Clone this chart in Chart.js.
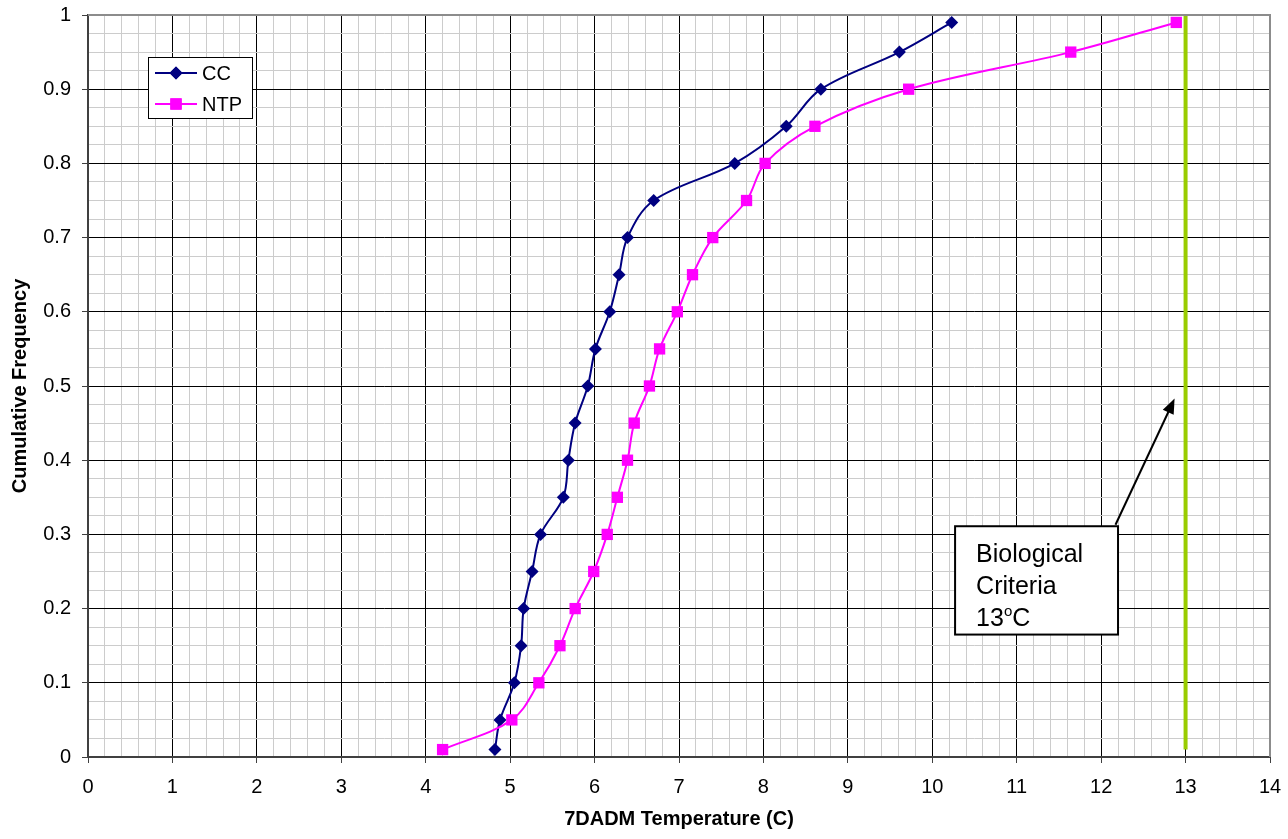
<!DOCTYPE html>
<html>
<head>
<meta charset="utf-8">
<script src="https://cdn.jsdelivr.net/npm/chart.js@4.4.1/dist/chart.umd.min.js"></script>
<style>
  html, body { margin: 0; padding: 0; background: #fff; }
  #wrap { width: 1288px; height: 839px; }
</style>
</head>
<body>
<div id="wrap"><canvas id="cdf"></canvas></div>
<script>
// cumulative frequency levels shared by both series
const freqLevels = [0.01, 0.05, 0.10, 0.15, 0.20, 0.25, 0.30, 0.35, 0.40, 0.45, 0.50,
                    0.55, 0.60, 0.65, 0.70, 0.75, 0.80, 0.85, 0.90, 0.95, 0.99];
// 7DADM temperature (C) at each level
const ccTemps  = [4.82, 4.88, 5.05, 5.13, 5.16, 5.26, 5.36, 5.63, 5.69, 5.77, 5.92,
                  6.01, 6.18, 6.29, 6.39, 6.70, 7.66, 8.27, 8.68, 9.61, 10.23];
const ntpTemps = [4.20, 5.02, 5.34, 5.59, 5.77, 5.99, 6.15, 6.27, 6.39, 6.47, 6.65,
                  6.77, 6.98, 7.16, 7.40, 7.80, 8.02, 8.61, 9.72, 11.64, 12.89];
const seriesNames = ['CC', 'NTP'];
// biological criteria line
const criteriaTemp = 13;
const criteriaFreqs = [0.01, 1];
const criteriaLines = ['Biological', 'Criteria', '13'];

const xTickLabels = [0, 1, 2, 3, 4, 5, 6, 7, 8, 9, 10, 11, 12, 13, 14];
const yTickLabels = [0, 0.1, 0.2, 0.3, 0.4, 0.5, 0.6, 0.7, 0.8, 0.9, 1];

const FONT = '"Liberation Sans", Arial, sans-serif';
const CC_COLOR = '#000080';
const NTP_COLOR = '#FF00FF';

function toPoints(xs, ys) {
    return xs.map((x, i) => ({ x: x, y: ys[i] }));
}

function isMajorX(v) { return Math.abs(v - Math.round(v)) < 1e-6; }
function isMajorY(v) { return Math.abs(v * 10 - Math.round(v * 10)) < 1e-6; }

// frame, legend and the callout box
const extrasPlugin = {
    id: 'extras',
    afterDraw(chart) {
        const ctx = chart.ctx;
        const xs = chart.scales.x, ys = chart.scales.y;
        const area = chart.chartArea;
        ctx.save();

        // gray frame on top and right
        ctx.strokeStyle = '#8c8c8c';
        ctx.lineWidth = 2;
        ctx.beginPath();
        ctx.moveTo(area.left, area.top);
        ctx.lineTo(area.right, area.top);
        ctx.lineTo(area.right, area.bottom);
        ctx.stroke();

        // legend
        const lx = 148, ly = 57, lw = 104, lh = 61;
        ctx.fillStyle = '#fff';
        ctx.fillRect(lx, ly, lw, lh);
        ctx.strokeStyle = '#000';
        ctx.lineWidth = 1;
        ctx.strokeRect(lx + 0.5, ly + 0.5, lw, lh);
        const rows = [
            { name: seriesNames[0], color: CC_COLOR, style: 'rectRot', r: 6.5 },
            { name: seriesNames[1], color: NTP_COLOR, style: 'rect', r: 8 }
        ];
        rows.forEach((row, i) => {
            const cy = ly + 16 + i * 31;
            ctx.strokeStyle = row.color;
            ctx.lineWidth = 2;
            ctx.beginPath();
            ctx.moveTo(lx + 7, cy);
            ctx.lineTo(lx + 49, cy);
            ctx.stroke();
            ctx.fillStyle = row.color;
            Chart.helpers.drawPoint(ctx, { pointStyle: row.style, radius: row.r, rotation: 0, borderWidth: 0 }, lx + 28, cy);
            ctx.fill();
            ctx.fillStyle = '#000';
            ctx.font = '20px ' + FONT;
            ctx.textBaseline = 'middle';
            ctx.textAlign = 'left';
            ctx.fillText(row.name, lx + 54, cy + 1);
        });

        // arrow to the criteria line
        const ax0 = xs.getPixelForValue(12.17), ay0 = ys.getPixelForValue(0.313);
        const ax1 = xs.getPixelForValue(12.87), ay1 = ys.getPixelForValue(0.483);
        const ang = Math.atan2(ay1 - ay0, ax1 - ax0);
        ctx.strokeStyle = '#000';
        ctx.fillStyle = '#000';
        ctx.lineWidth = 2;
        ctx.beginPath();
        ctx.moveTo(ax0, ay0);
        ctx.lineTo(ax1 - 12 * Math.cos(ang), ay1 - 12 * Math.sin(ang));
        ctx.stroke();
        ctx.beginPath();
        ctx.moveTo(ax1, ay1);
        ctx.lineTo(ax1 - 15 * Math.cos(ang) + 6 * Math.sin(ang), ay1 - 15 * Math.sin(ang) - 6 * Math.cos(ang));
        ctx.lineTo(ax1 - 15 * Math.cos(ang) - 6 * Math.sin(ang), ay1 - 15 * Math.sin(ang) + 6 * Math.cos(ang));
        ctx.closePath();
        ctx.fill();

        // callout box
        const bx0 = xs.getPixelForValue(10.27), by0 = ys.getPixelForValue(0.311);
        const bx1 = xs.getPixelForValue(12.20), by1 = ys.getPixelForValue(0.165);
        ctx.fillStyle = '#fff';
        ctx.fillRect(bx0, by0, bx1 - bx0, by1 - by0);
        ctx.strokeStyle = '#000';
        ctx.lineWidth = 2;
        ctx.strokeRect(bx0, by0, bx1 - bx0, by1 - by0);
        ctx.fillStyle = '#000';
        ctx.font = '25px ' + FONT;
        ctx.textAlign = 'left';
        ctx.textBaseline = 'alphabetic';
        const tx = bx0 + 21;
        ctx.fillText(criteriaLines[0], tx, by0 + 36);
        ctx.fillText(criteriaLines[1], tx, by0 + 68);
        ctx.fillText(criteriaLines[2], tx, by0 + 100);
        const w13 = ctx.measureText(criteriaLines[2]).width;
        ctx.font = '15px ' + FONT;
        ctx.fillText('o', tx + w13, by0 + 90);
        const wo = ctx.measureText('o').width;
        ctx.font = '25px ' + FONT;
        ctx.fillText('C', tx + w13 + wo, by0 + 100);

        ctx.restore();
    }
};

new Chart(document.getElementById('cdf'), {
    type: 'scatter',
    data: {
        datasets: [
            {
                label: 'Criteria',
                data: criteriaFreqs.map(f => ({ x: criteriaTemp, y: f })),
                showLine: true,
                borderColor: '#99CC00',
                borderWidth: 4,
                pointRadius: 0,
                order: 3
            },
            {
                label: seriesNames[0],
                data: toPoints(ccTemps, freqLevels),
                showLine: true,
                borderColor: CC_COLOR,
                backgroundColor: CC_COLOR,
                borderWidth: 2,
                tension: 0.35,
                pointStyle: 'rectRot',
                pointRadius: 6.5,
                pointBorderWidth: 0,
                order: 2
            },
            {
                label: seriesNames[1],
                data: toPoints(ntpTemps, freqLevels),
                showLine: true,
                borderColor: NTP_COLOR,
                backgroundColor: NTP_COLOR,
                borderWidth: 2,
                tension: 0.35,
                pointStyle: 'rect',
                pointRadius: 8,
                pointBorderWidth: 0,
                order: 1
            }
        ]
    },
    options: {
        responsive: true,
        maintainAspectRatio: false,
        animation: false,
        layout: { padding: { top: 15, right: 18, left: 0, bottom: 0 } },
        plugins: {
            legend: { display: false },
            tooltip: { enabled: false }
        },
        scales: {
            x: {
                type: 'linear',
                min: xTickLabels[0],
                max: xTickLabels[xTickLabels.length - 1],
                afterFit(scale) {
                    scale.height = 82;
                    scale.paddingLeft = 0;
                    scale.paddingRight = 0;
                },
                ticks: {
                    stepSize: 0.2,
                    autoSkip: false,
                    maxRotation: 0,
                    padding: 12,
                    color: '#000',
                    font: { family: FONT, size: 20 },
                    callback: v => (isMajorX(v) && xTickLabels.includes(Math.round(v))) ? String(Math.round(v)) : ''
                },
                grid: {
                    color: c => isMajorX(c.tick.value) ? '#000' : '#cccccc',
                    lineWidth: 1,
                    tickLength: 6,
                    tickColor: c => isMajorX(c.tick.value) ? '#404040' : 'rgba(0,0,0,0)'
                },
                border: { color: '#404040', width: 2 },
                title: {
                    display: true,
                    text: '7DADM Temperature (C)',
                    color: '#000',
                    font: { family: FONT, size: 20, weight: 'bold' },
                    padding: { top: 0, bottom: 8 }
                }
            },
            y: {
                type: 'linear',
                min: yTickLabels[0],
                max: yTickLabels[yTickLabels.length - 1],
                afterFit(scale) {
                    scale.width = 88;
                    scale.paddingTop = 0;
                    scale.paddingBottom = 0;
                },
                ticks: {
                    stepSize: 0.025,
                    autoSkip: false,
                    padding: 11,
                    color: '#000',
                    font: { family: FONT, size: 20 },
                    callback: v => isMajorY(v) ? String(Math.round(v * 10) / 10) : ''
                },
                grid: {
                    color: c => isMajorY(c.tick.value) ? '#000' : '#cccccc',
                    lineWidth: 1,
                    tickLength: 6,
                    tickColor: c => isMajorY(c.tick.value) ? '#404040' : 'rgba(0,0,0,0)'
                },
                border: { color: '#404040', width: 2 },
                title: {
                    display: true,
                    text: 'Cumulative Frequency',
                    color: '#000',
                    font: { family: FONT, size: 20, weight: 'bold' },
                    padding: { top: 8, bottom: 0 }
                }
            }
        }
    },
    plugins: [extrasPlugin]
});
</script>
</body>
</html>
